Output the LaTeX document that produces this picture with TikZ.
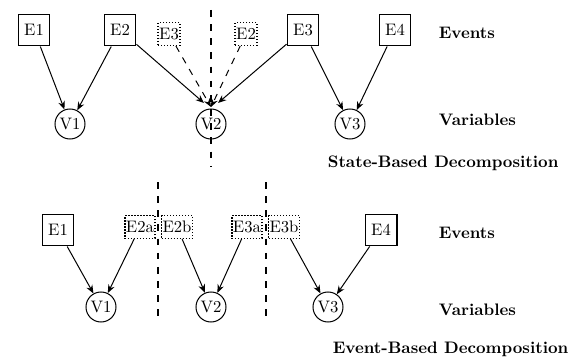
\documentclass[tikz,border=0pt]{standalone}
\usetikzlibrary{arrows.meta}
\tikzset{
  event/.style={draw, line width=0.8pt, minimum size=19pt, inner sep=1pt},
  subevent/.style={draw, thick, densely dotted, inner sep=0.6pt, minimum height=13.5pt},
  var/.style={draw, circle, semithick, minimum size=18pt, inner sep=1pt},
  lbl/.style={anchor=west, font=\bfseries},
  link/.style={-{Stealth[length=5pt,width=4pt]}, semithick},
  cut/.style={thick, dash pattern=on 4pt off 4.5pt}
}

\begin{document}
\begin{tikzpicture}[x=0.6pt, y=-0.6pt]
\useasboundingbox (0,0) rectangle (570,358);
% state-based decomposition
\node[event] (e1) at (34,30) {E1};
\node[event] (e2) at (120,30) {E2};
\node[subevent] (e3c) at (169,34) {E3};
\node[subevent] (e2c) at (246,34) {E2};
\node[event] (e3) at (303,30) {E3};
\node[event] (e4) at (395,30) {E4};
\node[var] (v1) at (70,124) {V1};
\node[var] (v2) at (211,124) {V2};
\node[var] (v3) at (350,124) {V3};
\node[lbl] (ev1) at (433,33) {Events};
\node[lbl] (va1) at (433,120) {Variables};
\node[lbl] (sb) at (322,163) {State-Based Decomposition};
\coordinate (t2a) at (204,103);
\coordinate (t2b) at (218,103);
\coordinate (t2c) at (211,107);
\draw[link] (e1) -- (v1);
\draw[link] (e2) -- (v1);
\draw[link] (e2) -- (t2a);
\draw[link] (e3) -- (t2b);
\draw[link] (e3) -- (v3);
\draw[link] (e4) -- (v3);
\draw[link, dash pattern=on 4pt off 4pt] (e3c) -- (t2c);
\draw[link, dash pattern=on 4pt off 4pt] (e2c) -- (t2c);
\draw[cut] (211,10) -- (211,166);
% event-based decomposition
\node[event] (f1) at (58,230) {E1};
\node[subevent] (f2a) at (140,227) {E2a};
\node[subevent] (f2b) at (177,227) {E2b};
\node[subevent] (f3a) at (247,227) {E3a};
\node[subevent] (f3b) at (284,227) {E3b};
\node[event] (f4) at (381,230) {E4};
\node[var] (w1) at (101,307) {V1};
\node[var] (w2) at (211,307) {V2};
\node[var] (w3) at (328,307) {V3};
\node[lbl] (ev2) at (433,233) {Events};
\node[lbl] (va2) at (433,310) {Variables};
\node[lbl] (eb) at (327,349) {Event-Based Decomposition};
\draw[link] (f1) -- (w1);
\draw[link] (f2a) -- (w1);
\draw[link] (f2b) -- (w2);
\draw[link] (f3a) -- (w2);
\draw[link] (f3b) -- (w3);
\draw[link] (f4) -- (w3);
\draw[cut] (158,182) -- (158,323);
\draw[cut] (266,182) -- (266,323);
\end{tikzpicture}
\end{document}
